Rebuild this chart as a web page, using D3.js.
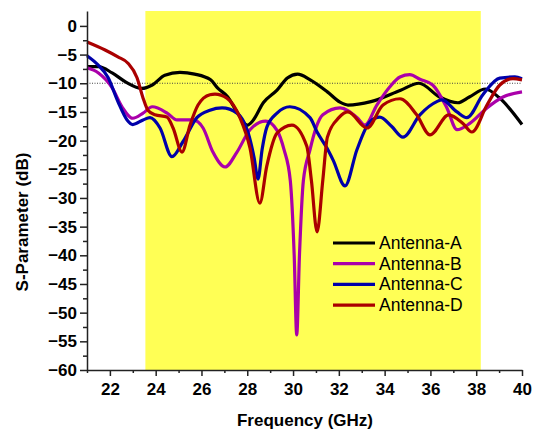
<!DOCTYPE html>
<html>
<head>
<meta charset="utf-8">
<script src="https://cdn.jsdelivr.net/npm/d3@7"></script>
<style>
  body { margin: 0; background: #fff; }
  text { font-family: "Liberation Sans", Arial, sans-serif; }
</style>
</head>
<body>
<script>
// values (GHz / dB)
const freqA = [21.0, 21.5, 22.1, 22.7, 23.4, 23.85, 24.4, 25.06, 25.7, 26.4, 26.7, 27.15, 27.55, 28.0, 28.25, 28.7, 29.3, 29.75, 30.2, 30.75, 31.5, 32.05, 32.4, 33.4, 34.7, 35.5, 36.4, 37.2, 37.7, 38.4, 39.0, 40.0];
const antennaA = [-7.1, -7.1, -8.2, -9.8, -10.9, -10.3, -8.6, -8.1, -8.4, -9.4, -10.8, -12.4, -15.0, -17.3, -16.5, -13.4, -11.2, -9.1, -8.4, -9.4, -11.5, -13.3, -13.8, -13.2, -11.2, -10.0, -12.4, -13.4, -12.4, -11.0, -12.5, -17.2];

const freqB = [21.0, 21.5, 22.1, 22.53, 23.0, 23.45, 23.85, 24.5, 24.93, 25.63, 26.07, 26.5, 27.03, 27.55, 28.12, 28.8, 29.3, 29.6, 29.88, 30.05, 30.16, 30.28, 30.45, 30.74, 31.0, 31.3, 32.05, 32.8, 33.14, 33.66, 34.23, 34.67, 35.1, 35.54, 36.1, 36.72, 37.16, 37.72, 38.47, 39.17, 40.0];
const antennaB = [-7.3, -8.2, -10.8, -14.1, -16.1, -15.2, -14.1, -15.2, -16.4, -16.4, -17.8, -22.0, -24.6, -22.0, -18.1, -16.6, -18.2, -21.5, -27.0, -40.0, -53.9, -40.0, -27.0, -21.6, -17.8, -15.5, -14.3, -16.0, -17.3, -13.8, -10.6, -8.9, -8.5, -9.3, -10.3, -14.3, -18.1, -17.0, -14.3, -12.4, -11.5];

const freqC = [21.0, 21.48, 21.92, 22.35, 22.75, 23.0, 23.45, 23.75, 24.19, 24.71, 25.19, 25.8, 26.37, 26.9, 27.55, 28.1, 28.3, 28.47, 28.65, 28.86, 29.3, 29.86, 30.74, 31.05, 31.48, 31.75, 32.27, 32.79, 33.36, 33.79, 34.3, 34.8, 35.54, 36.28, 36.5, 37.16, 37.59, 38.29, 39.03, 39.69, 40.0];
const antennaC = [-5.2, -6.8, -9.0, -13.2, -16.4, -17.2, -16.4, -16.0, -17.8, -22.8, -20.2, -16.0, -14.7, -14.3, -15.2, -19.5, -23.0, -26.7, -21.5, -17.6, -15.2, -14.1, -16.0, -18.5, -21.3, -23.4, -27.9, -21.6, -16.7, -15.9, -17.5, -19.4, -15.5, -13.2, -12.9, -15.0, -16.0, -12.0, -9.1, -8.9, -9.2];

const freqD = [21.0, 21.79, 22.35, 22.79, 23.18, 23.45, 23.66, 23.97, 24.49, 24.76, 25.15, 25.5, 25.85, 26.37, 26.59, 27.11, 27.68, 28.12, 28.55, 28.85, 29.3, 29.95, 30.6, 30.8, 31.05, 31.3, 31.5, 32.0, 32.4, 33.23, 33.93, 34.67, 35.4, 35.98, 36.8, 37.42, 37.81, 38.47, 39.03, 39.6, 40.0];
const antennaD = [-2.8, -4.2, -5.4, -6.5, -9.0, -12.6, -14.7, -15.5, -15.9, -17.8, -22.0, -17.3, -13.8, -12.0, -11.9, -12.6, -16.0, -21.3, -30.9, -24.5, -18.7, -17.3, -21.0, -26.9, -35.9, -26.9, -19.4, -16.0, -15.0, -17.8, -13.8, -12.7, -15.5, -19.0, -15.5, -17.0, -18.5, -13.8, -10.3, -9.2, -9.4];

const seriesNames = ["Antenna-A", "Antenna-B", "Antenna-C", "Antenna-D"];
const seriesColors = ["#000000", "#aa00aa", "#0000aa", "#aa0000"];

const xTicks = [22, 24, 26, 28, 30, 32, 34, 36, 38, 40];
const xMinor = [21, 23, 25, 27, 29, 31, 33, 35, 37, 39];
const yTicks = [0, -5, -10, -15, -20, -25, -30, -35, -40, -45, -50, -55, -60];
const yMinor = [-2.5, -7.5, -12.5, -17.5, -22.5, -27.5, -32.5, -37.5, -42.5, -47.5, -52.5, -57.5];
const bandStart = 23.55, bandEnd = 38.2;
const refLevel = -10;

const width = 533, height = 432;
const margin = {left: 87, right: 11, top: 11, bottom: 62};

const xScale = d3.scaleLinear().domain([21, 40]).range([margin.left, width - margin.right]);
const yScale = d3.scaleLinear().domain([-60, 2.6]).range([height - margin.bottom, margin.top]);

const svg = d3.select("body").append("svg")
  .attr("width", width)
  .attr("height", height);

// yellow band
svg.append("rect")
  .attr("x", xScale(bandStart))
  .attr("y", yScale(2.6))
  .attr("width", xScale(bandEnd) - xScale(bandStart))
  .attr("height", yScale(-60) - yScale(2.6))
  .attr("fill", "#ffff55");

// -10 dB dotted line
svg.append("line")
  .attr("x1", xScale(21)).attr("x2", xScale(40))
  .attr("y1", yScale(refLevel)).attr("y2", yScale(refLevel))
  .attr("stroke", "#444")
  .attr("stroke-width", 1)
  .attr("stroke-dasharray", "1,1.5");

const allSeries = [
  {f: freqA, v: antennaA},
  {f: freqB, v: antennaB},
  {f: freqC, v: antennaC},
  {f: freqD, v: antennaD}
];

const line = d3.line()
  .x(d => xScale(d[0]))
  .y(d => yScale(d[1]))
  .curve(d3.curveMonotoneX);

allSeries.forEach((s, i) => {
  svg.append("path")
    .datum(s.f.map((f, j) => [f, s.v[j]]))
    .attr("fill", "none")
    .attr("stroke", seriesColors[i])
    .attr("stroke-width", 3.2)
    .attr("stroke-linejoin", "round")
    .attr("d", line);
});

// axes
svg.append("g")
  .attr("transform", `translate(0, ${yScale(-60)})`)
  .call(d3.axisBottom(xScale).tickValues(xTicks).tickSize(6).tickSizeOuter(0).tickPadding(7));
svg.append("g")
  .attr("transform", `translate(0, ${yScale(-60)})`)
  .call(d3.axisBottom(xScale).tickValues(xMinor).tickSize(3).tickSizeOuter(0).tickFormat(""))
  .select(".domain").remove();

svg.append("g")
  .attr("transform", `translate(${margin.left}, 0)`)
  .call(d3.axisLeft(yScale).tickValues(yTicks).tickSize(7).tickSizeOuter(0).tickPadding(3));
svg.append("g")
  .attr("transform", `translate(${margin.left}, 0)`)
  .call(d3.axisLeft(yScale).tickValues(yMinor).tickSize(4).tickSizeOuter(0).tickFormat(""))
  .select(".domain").remove();

svg.selectAll(".domain").attr("stroke", "#222").attr("stroke-width", 1.5);
svg.selectAll(".tick line").attr("stroke", "#222").attr("stroke-width", 1.5);
svg.selectAll(".tick text")
  .attr("font-family", "'Liberation Sans', Arial, sans-serif")
  .attr("font-size", 17)
  .attr("font-weight", "bold")
  .attr("fill", "#000");

// axis titles
svg.append("text")
  .attr("x", 305)
  .attr("y", 426)
  .attr("text-anchor", "middle")
  .attr("font-size", 17)
  .attr("font-weight", "bold")
  .text("Frequency (GHz)");

svg.append("text")
  .attr("transform", `translate(28, 222) rotate(-90)`)
  .attr("text-anchor", "middle")
  .attr("font-size", 17)
  .attr("font-weight", "bold")
  .text("S-Parameter (dB)");

// legend
const legend = svg.append("g");
seriesNames.forEach((name, i) => {
  const ly = 243 + i * 20.7;
  legend.append("line")
    .attr("x1", 333).attr("x2", 375)
    .attr("y1", ly).attr("y2", ly)
    .attr("stroke", seriesColors[i])
    .attr("stroke-width", 3.2);
  legend.append("text")
    .attr("x", 379)
    .attr("y", ly + 6)
    .attr("font-size", 17.5)
    .text(name);
});
</script>
</body>
</html>
